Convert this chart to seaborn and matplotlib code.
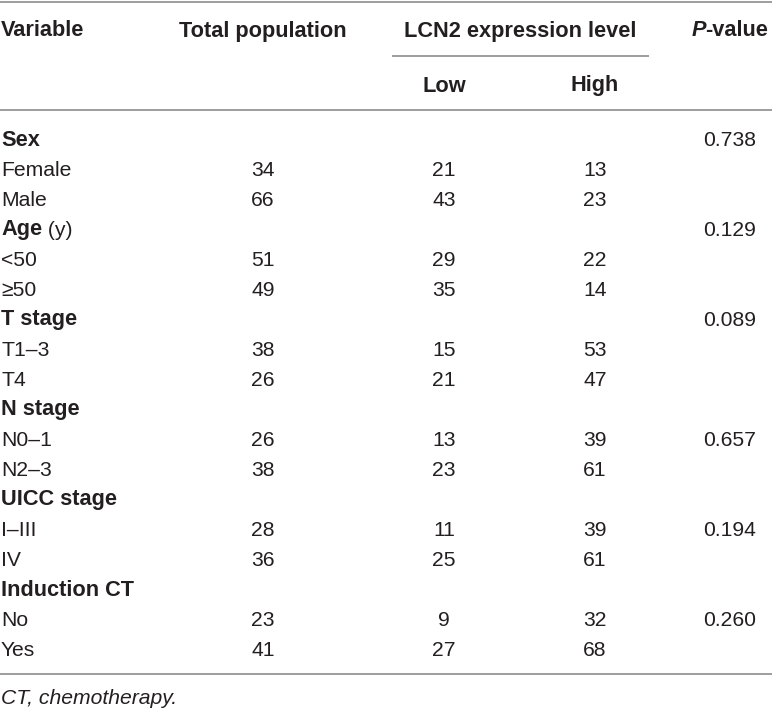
import matplotlib
matplotlib.use("Agg")
import matplotlib.pyplot as plt
import seaborn as sns

sns.set_theme(style="white")
plt.rcParams['font.family'] = ['Liberation Sans', 'DejaVu Sans']

# ---- data ----
variables = ["Sex", "Female", "Male", "Age", "<50", "≥50", "T stage", "T1–3", "T4",
             "N stage", "N0–1", "N2–3", "UICC stage", "I–III", "IV", "Induction CT", "No", "Yes"]
is_group = [True, False, False, True, False, False, True, False, False,
            True, False, False, True, False, False, True, False, False]
total = [None, 34, 66, None, 51, 49, None, 38, 26, None, 26, 38, None, 28, 36, None, 23, 41]
low = [None, 21, 43, None, 29, 35, None, 15, 21, None, 13, 23, None, 11, 25, None, 9, 27]
high = [None, 13, 23, None, 22, 14, None, 53, 47, None, 39, 61, None, 39, 61, None, 32, 68]
pvalues = ["0.738", "", "", "0.129", "", "", "0.089", "", "", "", "0.657", "", "", "0.194", "", "", "0.260", ""]
col_headers = ["Variable", "Total population", "LCN2 expression level", "P-value"]
sub_headers = ["Low", "High"]
footnote = "CT, chemotherapy."

W, H = 772, 708
fig = plt.figure(figsize=(W / 100, H / 100), dpi=100)
ax = fig.add_axes([0, 0, 1, 1])
ax.set_xlim(0, W)
ax.set_ylim(H, 0)
ax.axis("off")

TXT = "#231f20"
LINE = "#9d9d9d"
FS = 15.2      # regular body text
FSB = 15.7     # bold text
CAP = 7.5      # half cap height in px

x_var, x_tot, x_low, x_high, x_p = 1, 263, 444, 595, 730
x_lcn = 520

def base(yc):
    return yc + CAP

renderer = fig.canvas.get_renderer()

# rules
ax.plot([0, W], [2, 2], color=LINE, lw=1.4, solid_capstyle="butt")
ax.plot([392, 649], [56, 56], color=LINE, lw=1.4, solid_capstyle="butt")
ax.plot([0, W], [110, 110], color=LINE, lw=1.4, solid_capstyle="butt")
ax.plot([0, W], [674, 674], color=LINE, lw=1.4, solid_capstyle="butt")

# headers
hy = base(29)
ax.text(x_var, hy, col_headers[0], ha="left", va="baseline", fontsize=FSB, fontweight="bold", color=TXT)
ax.text(x_tot, hy, col_headers[1], ha="center", va="baseline", fontsize=FSB, fontweight="bold", color=TXT)
ax.text(x_lcn, hy, col_headers[2], ha="center", va="baseline", fontsize=FSB, fontweight="bold", color=TXT)
# P-value: italic P + "-value", centred at x_p
tp = ax.text(0, hy, "P", ha="left", va="baseline", fontsize=FSB, fontweight="bold", fontstyle="italic", color=TXT)
tv = ax.text(0, hy, "-value", ha="left", va="baseline", fontsize=FSB, fontweight="bold", color=TXT)
wp = tp.get_window_extent(renderer).width
wv = tv.get_window_extent(renderer).width
x0 = x_p - (wp + wv) / 2
tp.set_x(x0)
tv.set_x(x0 + wp - 1)

sy = base(84)
ax.text(x_low, sy, sub_headers[0], ha="center", va="baseline", fontsize=FSB, fontweight="bold", color=TXT)
ax.text(x_high, sy, sub_headers[1], ha="center", va="baseline", fontsize=FSB, fontweight="bold", color=TXT)

# body rows
y0, dy = 138, 30
for i, name in enumerate(variables):
    y = base(y0 + i * dy)
    if is_group[i]:
        t = ax.text(x_var, y, name, ha="left", va="baseline", fontsize=FSB, fontweight="bold", color=TXT)
        if name == "Age":
            w = t.get_window_extent(renderer).width
            ax.text(x_var + w, y, " (y)", ha="left", va="baseline", fontsize=FS, color=TXT)
    else:
        ax.text(x_var, y, name, ha="left", va="baseline", fontsize=FS, color=TXT)
    if total[i] is not None:
        ax.text(x_tot, y, str(total[i]), ha="center", va="baseline", fontsize=FS, color=TXT)
    if low[i] is not None:
        ax.text(x_low, y, str(low[i]), ha="center", va="baseline", fontsize=FS, color=TXT)
    if high[i] is not None:
        ax.text(x_high, y, str(high[i]), ha="center", va="baseline", fontsize=FS, color=TXT)
    if pvalues[i]:
        ax.text(x_p, y, pvalues[i], ha="center", va="baseline", fontsize=FS, color=TXT)

ax.text(x_var, base(696), footnote, ha="left", va="baseline", fontsize=FS, fontstyle="italic", color=TXT)

fig.savefig("out.png", dpi=100, facecolor="white")
